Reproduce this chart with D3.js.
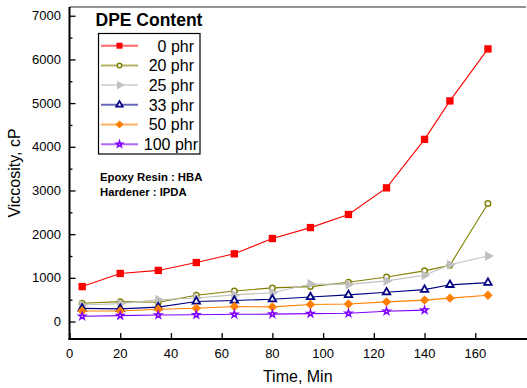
<!DOCTYPE html>
<html>
<head>
<meta charset="utf-8">
<script src="https://cdn.jsdelivr.net/npm/d3@7"></script>
<style>
  html, body { margin: 0; padding: 0; background: #fff; }
  svg { display: block; font-family: Arial, "Liberation Sans", sans-serif; }
</style>
</head>
<body>
<svg id="chart" width="527" height="388"></svg>
<script>
// Cure time (min) at which viscosity was sampled
const times = [5, 20, 35, 50, 65, 80, 95, 110, 125, 140, 150, 165];

// Viscosity (cP) for each DPE loading
const phr0   = [800, 1100, 1170, 1350, 1550, 1900, 2150, 2450, 3060, 4170, 5050, 6240];
const phr20  = [420, 455, 440, 600, 700, 770, 800, 900, 1020, 1160, 1290, 2700];
const phr25  = [380, 410, 500, 540, 610, 660, 860, 850, 930, 1060, 1300, 1500];
const phr33  = [300, 290, 330, 460, 480, 510, 560, 610, 670, 730, 840, 890];
const phr50  = [240, 240, 280, 305, 345, 335, 390, 400, 450, 490, 535, 600];
const phr100 = [120, 135, 150, 155, 165, 170, 180, 190, 235, 260];

const seriesLabels = ["0 phr", "20 phr", "25 phr", "33 phr", "50 phr", "100 phr"];
const xTicks = [0, 20, 40, 60, 80, 100, 120, 140, 160];
const yTicks = [0, 1000, 2000, 3000, 4000, 5000, 6000, 7000];

const seriesValues = [phr0, phr20, phr25, phr33, phr50, phr100];

// Marker styling per series
const styles = [
  { color: "#ff0000", shape: "square",   fill: "#ff0000", size: 54, lsize: 36, sw: 0 },
  { color: "#808000", shape: "circle",   fill: "#ffffff", size: 24, lsize: 16, sw: 1.5 },
  { color: "#c0c0c0", shape: "triRight", fill: "#c0c0c0", size: 44, lsize: 34, sw: 0 },
  { color: "#000080", shape: "triUp",    fill: "#ffffff", size: 24, lsize: 18, sw: 1.8 },
  { color: "#ff8000", shape: "diamond",  fill: "#ff8000", size: 44, lsize: 34, sw: 0 },
  { color: "#8000ff", shape: "star",     fill: "#ffffff", size: 14, lsize: 12, sw: 1.5 }
];

const svg = d3.select("#chart");
const plotL = 69.5, plotR = 526, plotT = 7, plotB = 339;

const x = d3.scaleLinear().domain([0, 180]).range([plotL, plotR]);
const y = d3.scaleLinear().domain([-400, 7200]).range([plotB, plotT]);

function symbolPath(shape, size) {
  const types = {
    square: d3.symbolSquare, circle: d3.symbolCircle, triRight: d3.symbolTriangle,
    triUp: d3.symbolTriangle, diamond: d3.symbolSquare, star: d3.symbolStar
  };
  return d3.symbol().type(types[shape]).size(size)();
}
function symbolRotate(shape) {
  if (shape === "triRight") return 90;
  if (shape === "diamond") return 45;
  return 0;
}

// Top frame
svg.append("line")
  .attr("x1", plotL).attr("x2", plotR).attr("y1", plotT).attr("y2", plotT)
  .attr("stroke", "#707070").attr("stroke-width", 1.6);

// Y axis: major ticks inward, minor ticks every 500
const yMinor = d3.range(500, 7000, 1000);
const gy = svg.append("g").attr("transform", `translate(${plotL},0)`);
gy.call(d3.axisRight(y).tickValues(yTicks).tickSize(6).tickFormat(""));
gy.select(".domain").remove();
gy.selectAll(".tick line").attr("stroke", "#000").attr("stroke-width", 1.3);
const gyMinor = svg.append("g").attr("transform", `translate(${plotL},0)`);
gyMinor.call(d3.axisRight(y).tickValues(yMinor).tickSize(3).tickFormat(""));
gyMinor.select(".domain").remove();
gyMinor.selectAll(".tick line").attr("stroke", "#000").attr("stroke-width", 1.3);
svg.append("g").selectAll("text").data(yTicks).join("text")
  .attr("x", 61).attr("y", d => y(d) + 4.6)
  .attr("text-anchor", "end").attr("font-size", 13).attr("fill", "#000")
  .text(d => d);
svg.append("line")
  .attr("x1", plotL).attr("x2", plotL).attr("y1", plotT).attr("y2", plotB + 1)
  .attr("stroke", "#000").attr("stroke-width", 2);

// X axis: ticks point up into the plot
const gx = svg.append("g").attr("transform", `translate(0,${plotB})`);
gx.call(d3.axisTop(x).tickValues(xTicks).tickSize(6).tickFormat(""));
gx.select(".domain").remove();
gx.selectAll(".tick line").attr("stroke", "#000").attr("stroke-width", 1.3);
svg.append("g").selectAll("text").data(xTicks).join("text")
  .attr("x", d => x(d)).attr("y", 357.5)
  .attr("text-anchor", "middle").attr("font-size", 13).attr("fill", "#000")
  .text(d => d);
svg.append("line")
  .attr("x1", plotL - 1).attr("x2", plotR + 1).attr("y1", plotB).attr("y2", plotB)
  .attr("stroke", "#000").attr("stroke-width", 2);

// Axis titles
svg.append("text")
  .attr("x", (plotL + plotR) / 2).attr("y", 382)
  .attr("text-anchor", "middle").attr("font-size", 16).text("Time, Min");
svg.append("text")
  .attr("transform", `translate(20,${(plotT + plotB) / 2}) rotate(-90)`)
  .attr("text-anchor", "middle").attr("font-size", 16).text("Viccosity, cP");

// Series lines and markers
const line = d3.line().x(d => x(d[0])).y(d => y(d[1]));
seriesValues.forEach((vals, i) => {
  const st = styles[i];
  const pts = vals.map((v, j) => [times[j], v]);
  const g = svg.append("g");
  g.append("path").datum(pts).attr("d", line)
    .attr("fill", "none").attr("stroke", st.color).attr("stroke-width", 1.1);
  g.selectAll("path.m").data(pts).join("path").attr("class", "m")
    .attr("d", symbolPath(st.shape, st.size))
    .attr("transform", d => `translate(${x(d[0])},${y(d[1])}) rotate(${symbolRotate(st.shape)})`)
    .attr("fill", st.fill)
    .attr("stroke", st.sw ? st.color : "none")
    .attr("stroke-width", st.sw);
});

// Legend
svg.append("text")
  .attr("x", 95.5).attr("y", 26).attr("font-size", 17.5).attr("font-weight", "bold")
  .text("DPE Content");
svg.append("rect")
  .attr("x", 98.5).attr("y", 33.5).attr("width", 101.5).attr("height", 120.5)
  .attr("fill", "#fff").attr("stroke", "#000").attr("stroke-width", 1.2);
const lg = svg.append("g").selectAll("g").data(seriesLabels).join("g")
  .attr("transform", (d, i) => `translate(0,${45.7 + i * 19.7})`);
lg.append("line")
  .attr("x1", 101).attr("x2", 138).attr("y1", 0).attr("y2", 0)
  .attr("stroke", (d, i) => styles[i].color).attr("stroke-width", 2).attr("stroke-opacity", 0.6);
lg.append("path")
  .attr("d", (d, i) => symbolPath(styles[i].shape, styles[i].lsize))
  .attr("transform", (d, i) => `translate(119.5,0) rotate(${symbolRotate(styles[i].shape)})`)
  .attr("fill", (d, i) => styles[i].fill)
  .attr("stroke", (d, i) => styles[i].sw ? styles[i].color : "none")
  .attr("stroke-width", (d, i) => styles[i].sw);
lg.append("text")
  .attr("x", d => d.length > 6 ? 198 : 194).attr("y", 5.8)
  .attr("text-anchor", "end").attr("font-size", 16).text(d => d);

// Formulation note
svg.append("text").attr("x", 100).attr("y", 181)
  .attr("font-size", 11.3).attr("font-weight", "bold").text("Epoxy Resin : HBA");
svg.append("text").attr("x", 100).attr("y", 196)
  .attr("font-size", 11.3).attr("font-weight", "bold").text("Hardener : IPDA");
</script>
</body>
</html>
